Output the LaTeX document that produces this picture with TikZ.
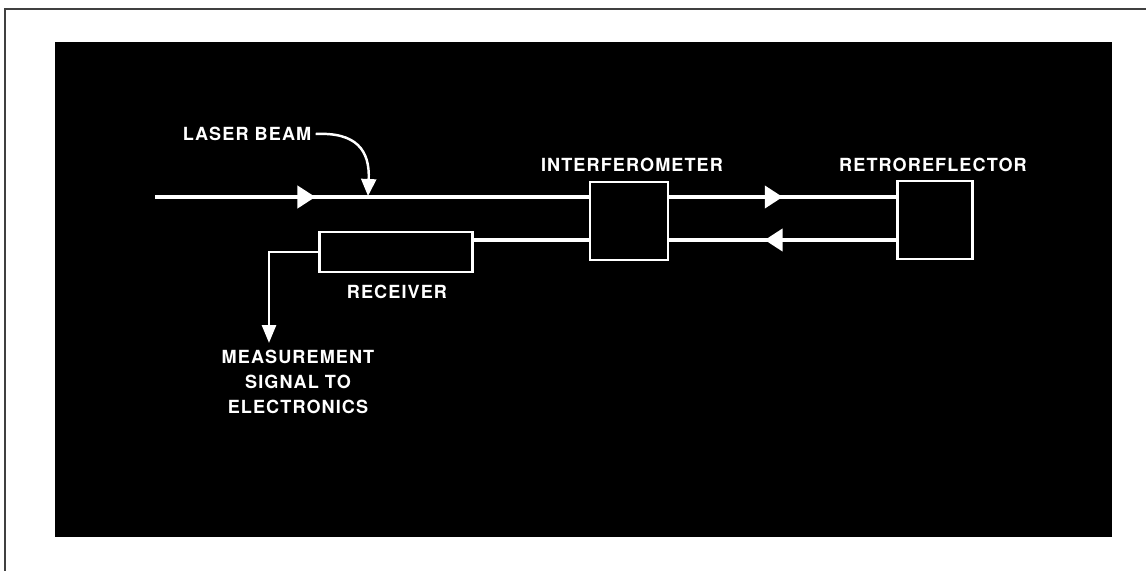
\documentclass[tikz,border=0pt]{standalone}
\usepackage{fontspec}
\newfontfamily\lblfont[LetterSpace=6]{TeX Gyre Heros}
\usepackage{tikz}
\usetikzlibrary{arrows.meta, positioning, decorations.markings}

\begin{document}
\begin{tikzpicture}[
  x=0.02cm, y=-0.02cm,
  lbl/.style={text=white, font=\lblfont\bfseries\fontsize{10.3}{14.2}\selectfont, inner sep=0pt, align=center},
  optbox/.style={draw=white, line width=1.6pt, fill=black, inner sep=0pt},
  beam/.style={white, line width=2.3pt},
  midarrow/.style={postaction={decorate, decoration={markings,
      mark=at position #1 with {\arrow{Triangle[length=0.36cm, width=0.44cm]}}}}},
  pointer/.style={white, line width=1.4pt, -{Triangle[length=0.34cm, width=0.3cm]}}
]
  % paper, frame and black panel
  \fill[white] (0,0) rectangle (1146,571);
  \useasboundingbox (0,0) rectangle (1146,571);
  \draw[black!75, line width=1pt] (5,571) -- (5,9) -- (1146,9);
  \fill[black] (55,42) rectangle (1112,537);

  % the three boxes
  \node[optbox, minimum width=1.56cm, minimum height=1.56cm] (ifm) at (629,221) {};
  \node[optbox, minimum width=1.5cm, minimum height=1.56cm] (retro) at (935,220) {};
  \node[optbox, minimum width=3.06cm, minimum height=0.8cm] (rcv) at (396,252) {};

  % labels
  \node[lbl] (ifmlbl) at (632,165) {INTERFEROMETER};
  \node[lbl] (retrolbl) at (933,165) {RETROREFLECTOR};
  \node[lbl] (rcvlbl) at (397,292) {RECEIVER};
  \node[lbl] (lblbeam) at (247,134) {LASER BEAM};
  \node[lbl, anchor=north] (sig) at (298,350) {MEASUREMENT\\SIGNAL TO\\ELECTRONICS};

  % beam levels
  \coordinate (src) at (155,197);
  \coordinate (ret) at (473,240);
  \coordinate (hit) at (368,196);
  \coordinate (turn) at (269,252);
  \coordinate (out) at (269,343);

  % outgoing and returning beams
  \draw[beam, midarrow=0.37] (src) -- (src -| ifm.west);
  \draw[beam, midarrow=0.5] (ifm.east |- src) -- (retro.west |- src);
  \draw[beam, midarrow=0.58] (retro.west |- ret) -- (ifm.east |- ret);
  \draw[beam] (ifm.west |- ret) -- (rcv.east |- ret);

  % receiver output to electronics
  \draw[white, line width=1.6pt, -{Triangle[length=0.36cm, width=0.28cm]}]
    (rcv.west |- turn) -- (turn) -- (out);

  % label pointer
  \draw[pointer] (lblbeam.east) ++(4,0) .. controls (356,132) and (370,150) .. (hit);
\end{tikzpicture}
\end{document}
